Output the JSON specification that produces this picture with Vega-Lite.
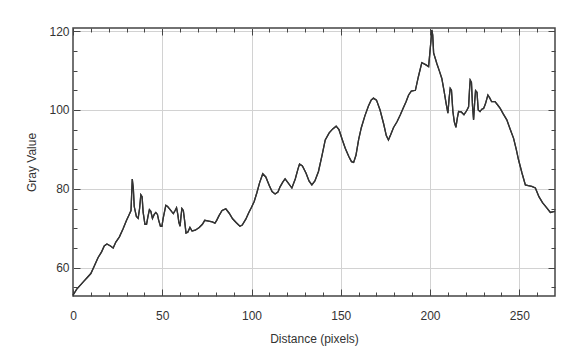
{
  "$schema": "https://vega.github.io/schema/vega-lite/v6.json",
  "width": 482,
  "height": 268,
  "autosize": "none",
  "padding": {"left": 73, "top": 28, "right": 17, "bottom": 57},
  "background": "white",
  "config": {
    "view": {"stroke": "#444", "strokeWidth": 1.5},
    "axis": {"labelFont": "Liberation Sans", "titleFont": "Liberation Sans", "labelColor": "#333", "titleColor": "#333", "labelFontSize": 12, "titleFontSize": 12, "titleFontWeight": "normal", "domain": false, "tickColor": "#444", "gridColor": "#d2d2d2"}
  },
  "data": {"values": [
    {"x":0,"y":53},{"x":2,"y":54.5},{"x":4,"y":55.5},{"x":6,"y":56.5},{"x":8,"y":57.5},{"x":10,"y":58.5},{"x":12,"y":60.5},{"x":14,"y":62.5},{"x":16,"y":64},{"x":17.5,"y":65.5},{"x":19,"y":66},{"x":21,"y":65.5},{"x":22.5,"y":65},{"x":24,"y":66.5},{"x":26,"y":67.8},{"x":28,"y":69.8},{"x":30,"y":72},{"x":31.5,"y":73.5},{"x":32.5,"y":74.5},{"x":33.2,"y":82.5},{"x":33.8,"y":80},{"x":34.3,"y":75.5},{"x":35.5,"y":73},{"x":36.5,"y":72.5},{"x":37.3,"y":75},{"x":38,"y":78.5},{"x":38.7,"y":78},{"x":39.3,"y":74},{"x":40.3,"y":71},{"x":41.2,"y":71},{"x":42,"y":73},{"x":42.8,"y":74.7},{"x":43.6,"y":74.3},{"x":44.5,"y":72.5},{"x":45.5,"y":73.5},{"x":46.4,"y":74},{"x":47.3,"y":73.5},{"x":48,"y":72},{"x":49,"y":70.5},{"x":49.8,"y":70.5},{"x":50.5,"y":72.5},{"x":52,"y":75.8},{"x":53,"y":75.5},{"x":54.3,"y":74.8},{"x":55.3,"y":74.2},{"x":56.2,"y":73.7},{"x":57.2,"y":74.5},{"x":58,"y":75.2},{"x":58.7,"y":73.5},{"x":59.3,"y":71.5},{"x":60,"y":70.5},{"x":60.5,"y":73},{"x":61,"y":75},{"x":61.8,"y":74.5},{"x":62.5,"y":72},{"x":63.3,"y":68.8},{"x":64.3,"y":69},{"x":65.5,"y":70.2},{"x":66.7,"y":69.3},{"x":68.5,"y":69.5},{"x":70.7,"y":70.2},{"x":72.5,"y":71},{"x":73.8,"y":72},{"x":76,"y":71.8},{"x":78,"y":71.6},{"x":79.5,"y":71.3},{"x":80.5,"y":72},{"x":81.8,"y":73.2},{"x":83.5,"y":74.5},{"x":85.6,"y":74.9},{"x":87.5,"y":73.8},{"x":89.4,"y":72.4},{"x":91.5,"y":71.4},{"x":93.5,"y":70.5},{"x":94.8,"y":70.8},{"x":96.8,"y":72.3},{"x":98.5,"y":74},{"x":100,"y":75.3},{"x":101.5,"y":76.8},{"x":103,"y":79},{"x":104.5,"y":81.5},{"x":106.3,"y":83.8},{"x":108,"y":83},{"x":110,"y":80.8},{"x":111.5,"y":79.3},{"x":113.2,"y":78.7},{"x":114.8,"y":79.2},{"x":116,"y":80.5},{"x":117.5,"y":81.7},{"x":118.8,"y":82.5},{"x":120.5,"y":81.5},{"x":122.6,"y":80.2},{"x":124.5,"y":82.5},{"x":126,"y":85},{"x":126.9,"y":86.3},{"x":128.5,"y":85.8},{"x":130.5,"y":84},{"x":132.2,"y":82},{"x":133.8,"y":81},{"x":135.5,"y":82},{"x":137.5,"y":84.4},{"x":139.5,"y":88.5},{"x":141.3,"y":92.4},{"x":143.5,"y":94.2},{"x":145.5,"y":95.2},{"x":147.4,"y":95.9},{"x":149,"y":95},{"x":150.8,"y":92.5},{"x":152.5,"y":90.3},{"x":154.5,"y":88.2},{"x":156,"y":86.9},{"x":157.2,"y":86.7},{"x":158.5,"y":88.5},{"x":160,"y":92.5},{"x":161.5,"y":95.5},{"x":163.5,"y":98.5},{"x":165.5,"y":101},{"x":167,"y":102.5},{"x":168.3,"y":103},{"x":170,"y":102.5},{"x":172,"y":100},{"x":174,"y":96.5},{"x":175.5,"y":93.5},{"x":176.7,"y":92.4},{"x":178,"y":93.8},{"x":179.5,"y":95.5},{"x":181.5,"y":97},{"x":183.3,"y":98.7},{"x":185,"y":100.5},{"x":186.5,"y":102},{"x":188,"y":103.8},{"x":189.5,"y":104.8},{"x":191.8,"y":105},{"x":193.5,"y":108.5},{"x":195.4,"y":112},{"x":197.5,"y":111.5},{"x":199.2,"y":111},{"x":199.8,"y":114},{"x":200.5,"y":117.5},{"x":201,"y":120.3},{"x":201.5,"y":119},{"x":202,"y":114.5},{"x":203.8,"y":111.8},{"x":205.3,"y":109.8},{"x":206.6,"y":108},{"x":207.8,"y":105},{"x":209,"y":101.7},{"x":210,"y":99.2},{"x":210.7,"y":103},{"x":211.3,"y":105.5},{"x":212,"y":105},{"x":212.8,"y":99.6},{"x":213.6,"y":97},{"x":214.5,"y":95.6},{"x":215.3,"y":98},{"x":216,"y":99.6},{"x":217.5,"y":99.5},{"x":219,"y":98.8},{"x":220.5,"y":99.8},{"x":221.6,"y":100.8},{"x":222.1,"y":105},{"x":222.5,"y":107.6},{"x":223.2,"y":107},{"x":223.8,"y":101},{"x":224.4,"y":97.5},{"x":225,"y":102},{"x":225.5,"y":104.9},{"x":226.3,"y":104.5},{"x":227,"y":100},{"x":228,"y":99.6},{"x":229,"y":100.2},{"x":230,"y":100.4},{"x":231,"y":101.5},{"x":232.4,"y":103.8},{"x":233.5,"y":103},{"x":234.5,"y":102.1},{"x":236.4,"y":102.1},{"x":238,"y":101.2},{"x":239.3,"y":100.4},{"x":241,"y":99},{"x":243,"y":97.5},{"x":245,"y":95},{"x":246.8,"y":92.8},{"x":248.3,"y":90},{"x":249.6,"y":87.3},{"x":251.5,"y":84},{"x":253.4,"y":81},{"x":255,"y":80.8},{"x":257,"y":80.6},{"x":259,"y":80.2},{"x":261,"y":78},{"x":263,"y":76.5},{"x":265.5,"y":75.1},{"x":267.4,"y":74},{"x":269.2,"y":74.2},{"x":270,"y":74.3}
  ]},
  "layer": [
    {
      "mark": {"type": "line", "color": "#333", "strokeWidth": 1.3},
      "encoding": {
        "x": {"field": "x", "type": "quantitative", "scale": {"domain": [0, 270], "nice": false, "zero": false},
          "axis": {"orient": "bottom", "title": "Distance (pixels)", "values": [0,10,20,30,40,50,60,70,80,90,100,110,120,130,140,150,160,170,180,190,200,210,220,230,240,250,260],
            "labelExpr": "datum.value % 50 === 0 ? datum.label : ''",
            "tickSize": {"condition": {"test": "datum.value % 50 === 0", "value": -7}, "value": -4},
            "gridOpacity": {"condition": {"test": "datum.value % 50 === 0 && datum.value > 0", "value": 1}, "value": 0},
            "grid": true, "labelPadding": 21, "titlePadding": 12, "labelFlush": false}},
        "y": {"field": "y", "type": "quantitative", "scale": {"domain": [52.8, 120.8], "nice": false, "zero": false},
          "axis": {"orient": "left", "title": "Gray Value", "values": [55,60,65,70,75,80,85,90,95,100,105,110,115,120],
            "labelExpr": "datum.value % 20 === 0 ? datum.label : ''",
            "tickSize": {"condition": {"test": "datum.value % 20 === 0", "value": -7}, "value": -4},
            "gridOpacity": {"condition": {"test": "datum.value % 20 === 0", "value": 1}, "value": 0},
            "grid": true, "labelPadding": 11, "titlePadding": 10}}
      }
    },
    {
      "mark": {"type": "line", "color": "#333", "strokeWidth": 1.3},
      "encoding": {
        "x": {"field": "x", "type": "quantitative",
          "axis": {"orient": "top", "title": null, "labels": false, "grid": false, "values": [0,10,20,30,40,50,60,70,80,90,100,110,120,130,140,150,160,170,180,190,200,210,220,230,240,250,260],
            "tickSize": {"condition": {"test": "datum.value % 50 === 0", "value": -7}, "value": -4}}},
        "y": {"field": "y", "type": "quantitative",
          "axis": {"orient": "right", "title": null, "labels": false, "grid": false, "values": [55,60,65,70,75,80,85,90,95,100,105,110,115,120],
            "tickSize": {"condition": {"test": "datum.value % 20 === 0", "value": -7}, "value": -4}}}
      }
    }
  ],
  "resolve": {"axis": {"x": "independent", "y": "independent"}}
}
